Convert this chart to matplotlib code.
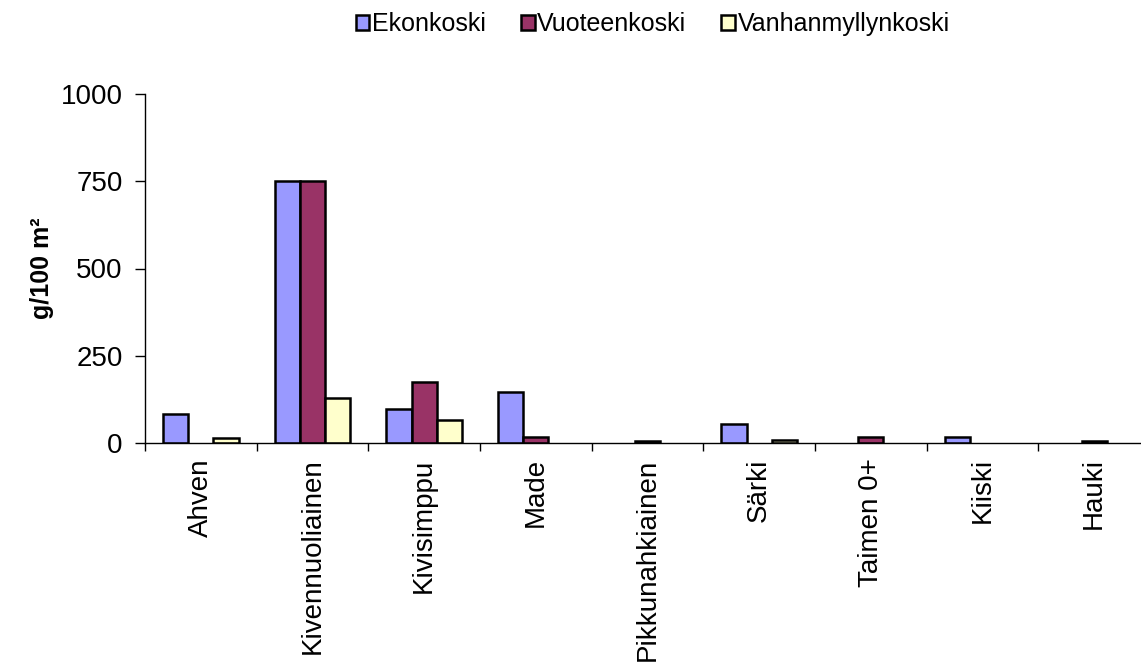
import numpy as np
import matplotlib.pyplot as plt

plt.rcParams['font.family'] = ['Liberation Sans', 'DejaVu Sans']

# Fish biomass per site
species = ['Ahven', 'Kivennuoliainen', 'Kivisimppu', 'Made', 'Pikkunahkiainen',
           'Särki', 'Taimen 0+', 'Kiiski', 'Hauki']
ekonkoski = [83, 752, 97, 146, 0, 55, 0, 18, 0]
vuoteenkoski = [0, 752, 175, 17, 5, 0, 18, 0, 5]
vanhanmyllynkoski = [14, 129, 66, 0, 0, 8, 0, 0, 0]

series = [('Ekonkoski', ekonkoski, '#9999FF'),
          ('Vuoteenkoski', vuoteenkoski, '#993366'),
          ('Vanhanmyllynkoski', vanhanmyllynkoski, '#FFFFCC')]

fig = plt.figure(figsize=(11.41, 6.70), dpi=100)
ax = fig.add_axes([145 / 1141, 227 / 670, 1005 / 1141, 349 / 670])

x = np.arange(len(species))
w = 0.225
for i, (name, vals, color) in enumerate(series):
    vals = np.array(vals, dtype=float)
    vals[vals == 0] = np.nan  # empty catches are left blank
    ax.bar(x + (i - 1) * w, vals, w, color=color, edgecolor='black',
           linewidth=1.8, label=name)

ax.set_xlim(-0.5, len(species) - 0.5)
ax.set_ylim(0, 1000)
ax.set_yticks([0, 250, 500, 750, 1000])
ax.tick_params(axis='y', labelsize=20, length=7, width=1, direction='out', pad=9)

ax.set_xticks(x)
ax.set_xticklabels(species, rotation=90, fontsize=20)
ax.set_xticks(np.arange(len(species) + 1) - 0.5, minor=True)
ax.tick_params(axis='x', which='major', length=0, pad=11)
ax.tick_params(axis='x', which='minor', length=6, width=1, direction='out')

for s in ['top', 'right']:
    ax.spines[s].set_visible(False)
ax.spines['left'].set_linewidth(1)
ax.spines['bottom'].set_linewidth(1)

ax.set_ylabel('g/100 m²', fontsize=18, fontweight='bold', labelpad=5)

fig.legend(loc='center', bbox_to_anchor=(0.572, 0.964), ncol=3, frameon=False,
           fontsize=18, handlelength=0.55, handleheight=0.55, handletextpad=0.1,
           columnspacing=1.4)

fig.savefig('out.png', dpi=100)
